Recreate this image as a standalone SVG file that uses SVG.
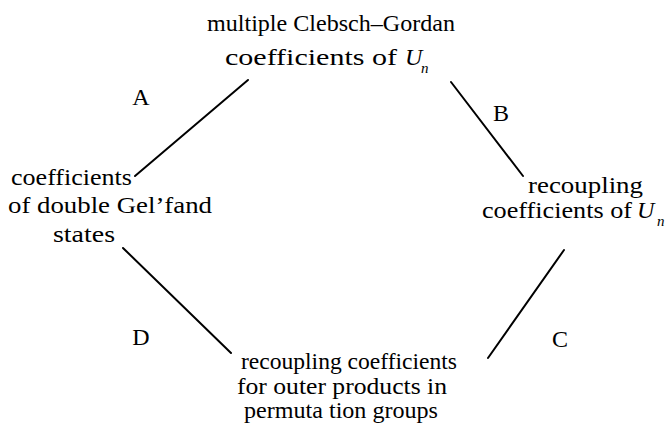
<svg xmlns="http://www.w3.org/2000/svg" width="668" height="439" viewBox="0 0 668 439">
<style>
text{font-family:"Liberation Serif","Times New Roman",serif;font-size:24px;fill:#000}
.w{lengthAdjust:spacingAndGlyphs}
.m{text-anchor:middle}
.sub{font-size:15px;font-style:italic}
.it{font-style:italic}
line{stroke:#000;stroke-width:2;stroke-linecap:round}
</style>
<rect width="668" height="439" fill="#fff"/>
<g id="connectors">
<line x1="135" y1="176" x2="248" y2="80"/>
<line x1="451" y1="82" x2="523" y2="176"/>
<line x1="564" y1="250" x2="488" y2="358"/>
<line x1="123" y1="248" x2="231" y2="353"/>
</g>
<g id="labels">
<text class="m" x="141" y="105">A</text>
<text class="m" x="501" y="121">B</text>
<text class="m" x="560" y="347">C</text>
<text class="m" x="141" y="345">D</text>
</g>
<g id="node-top">
<text x="207" y="31" textLength="248" lengthAdjust="spacingAndGlyphs">multiple Clebsch–Gordan</text>
<text x="225" y="65" textLength="172" lengthAdjust="spacingAndGlyphs">coefficients of</text>
<text class="it" x="405" y="65">U</text>
<text class="sub" x="421" y="73">n</text>
</g>
<g id="node-left">
<text x="11" y="185" textLength="121" lengthAdjust="spacingAndGlyphs">coefficients</text>
<text x="8" y="213" textLength="204" lengthAdjust="spacingAndGlyphs">of double Gel’fand</text>
<text x="53" y="242" textLength="62" lengthAdjust="spacingAndGlyphs">states</text>
</g>
<g id="node-right">
<text x="528" y="193" textLength="115" lengthAdjust="spacingAndGlyphs">recoupling</text>
<text x="482" y="218" textLength="150" lengthAdjust="spacingAndGlyphs">coefficients of</text>
<text class="it" x="637" y="218">U</text>
<text class="sub" x="657" y="226">n</text>
</g>
<g id="node-bottom">
<text x="241" y="369" textLength="216" lengthAdjust="spacingAndGlyphs">recoupling coefficients</text>
<text x="237" y="394" textLength="210" lengthAdjust="spacingAndGlyphs">for outer products in</text>
<text x="244" y="418" textLength="194" lengthAdjust="spacingAndGlyphs">permuta tion groups</text>
</g>
</svg>
